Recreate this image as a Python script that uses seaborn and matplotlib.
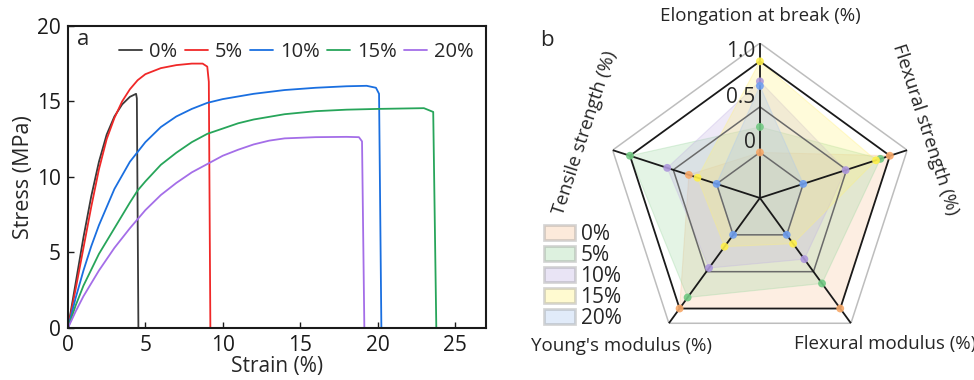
import numpy as np
import pandas as pd
import matplotlib
matplotlib.use('Agg')
import matplotlib.pyplot as plt
from matplotlib.patches import Patch
import seaborn as sns

# ---- panel a: stress-strain curves ----
contents = ['0%', '5%', '10%', '15%', '20%']

strain_0 = [0, 0.5, 1.0, 1.5, 2.0, 2.5, 3.0, 3.5, 4.0, 4.4, 4.45, 4.55]
stress_0 = [0, 3.0, 6.0, 8.7, 11.0, 12.8, 14.0, 14.8, 15.3, 15.5, 15.2, 0]

strain_5 = [0, 0.5, 1, 1.5, 2, 2.5, 3, 3.5, 4, 4.5, 5, 6, 7, 8, 8.7, 9.0, 9.1, 9.2]
stress_5 = [0, 2.6, 5.3, 8.0, 10.5, 12.5, 13.9, 15.0, 15.8, 16.4, 16.8, 17.2, 17.4, 17.5, 17.5, 17.3, 16.3, 0]

strain_10 = [0, 0.5, 1, 1.5, 2, 3, 4, 5, 6, 7, 8, 9, 10, 12, 14, 16, 18, 19.3, 19.9, 20.1, 20.25]
stress_10 = [0, 2.0, 3.8, 5.4, 6.8, 9.2, 11.0, 12.3, 13.3, 14.0, 14.5, 14.9, 15.15, 15.5, 15.75, 15.9, 16.0, 16.03, 15.9, 15.5, 0]

strain_15 = [0, 0.5, 1, 2, 3, 4, 4.5, 5, 6, 7, 8, 9, 10, 11, 12, 14, 16, 18, 20, 23, 23.6, 23.8]
stress_15 = [0, 1.5, 2.8, 4.9, 6.6, 8.3, 9.1, 9.7, 10.8, 11.6, 12.3, 12.85, 13.2, 13.55, 13.8, 14.15, 14.35, 14.45, 14.5, 14.55, 14.3, 0]

strain_20 = [0, 0.5, 1, 2, 3, 4, 5, 6, 7, 8, 9, 10, 11, 12, 13, 14, 16, 18, 18.8, 19.0, 19.15]
stress_20 = [0, 1.1, 2.1, 3.8, 5.3, 6.6, 7.8, 8.8, 9.6, 10.3, 10.85, 11.4, 11.8, 12.15, 12.4, 12.55, 12.63, 12.65, 12.63, 12.35, 0]

line_colors = ['#3a3a3a', '#f02828', '#1a6fe0', '#27a55a', '#a46ee8']

# ---- panel b: radar (normalised properties) ----
properties = ['Elongation at break (%)', 'Flexural strength (%)', 'Flexural modulus (%)',
              "Young's modulus (%)", 'Tensile strength (%)']
radar_0 = [0.0, 1.0, 1.0, 1.0, 0.32]
radar_5 = [0.28, 0.89, 0.66, 0.85, 1.0]
radar_10 = [0.78, 0.49, 0.33, 0.45, 0.57]
radar_15 = [1.0, 0.84, 0.12, 0.16, 0.22]
radar_20 = [0.73, 0.0, 0.0, 0.0, 0.0]
radar_ticks = [0, 0.5, 1.0]
radar_ticklabels = ['0', '0.5', '1.0']

fill_colors = ['#f9c49a', '#9fd8a4', '#c2b3e3', '#fff27a', '#a9c8f0']
dot_colors = ['#f7a868', '#72c983', '#ad98dc', '#fff04a', '#6f9ff0']

sns.set_theme(style='ticks')
plt.rcParams['font.family'] = ['Open Sans', 'DejaVu Sans']
plt.rcParams['axes.linewidth'] = 1.5

fig = plt.figure(figsize=(9.74, 3.8), dpi=100)

# ---------- a ----------
ax = fig.add_axes([0.0698, 0.137, 0.429, 0.795])
frames = []
for lab, sx, sy in zip(contents, [strain_0, strain_5, strain_10, strain_15, strain_20],
                       [stress_0, stress_5, stress_10, stress_15, stress_20]):
    frames.append(pd.DataFrame({'strain': sx, 'stress': sy, 'content': lab}))
df = pd.concat(frames, ignore_index=True)
sns.lineplot(data=df, x='strain', y='stress', hue='content', hue_order=contents,
             palette=line_colors, sort=False, estimator=None, lw=1.3, ax=ax)
ax.set_xlim(0, 27)
ax.set_ylim(0, 20)
ax.set_xticks([0, 5, 10, 15, 20, 25])
ax.set_yticks([0, 5, 10, 15, 20])
ax.tick_params(direction='in', length=4, width=1, labelsize=15, colors='k', pad=5)
for s in ax.spines.values():
    s.set_color('k')
ax.set_xlabel('Strain (%)', fontsize=15, labelpad=0)
ax.set_ylabel('Stress (MPa)', fontsize=15.5, labelpad=2)
ax.text(0.022, 0.99, 'a', transform=ax.transAxes, fontsize=16, va='top', ha='left')
ax.legend(loc='upper right', bbox_to_anchor=(1.0, 0.985), ncol=5, frameon=False,
          fontsize=14.5, handlelength=1.15, handletextpad=0.35, columnspacing=0.35,
          borderaxespad=0.2)

# ---------- b ----------
rax = fig.add_axes([0.6212, 0.071, 0.318, 0.816], projection='polar')
rax.set_theta_offset(np.pi / 2)
rax.set_theta_direction(-1)
rax.set_ylim(-0.5, 1.2)
rax.grid(False)
rax.spines['polar'].set_visible(False)
rax.set_xticks([])
rax.set_yticks([])
rax.patch.set_alpha(0)

n = len(properties)
ang = np.linspace(0, 2 * np.pi, n, endpoint=False)
ang_c = np.append(ang, ang[0])

rax.plot(ang_c, [1.2] * (n + 1), color='#bdbdbd', lw=1.1)
for lvl in radar_ticks:
    rax.plot(ang_c, [lvl] * (n + 1), color='k' if lvl == 1.0 else '#6a6a6a',
             lw=1.3 if lvl == 1.0 else 1.1, zorder=3)
for a in ang:
    rax.plot([a, a], [-0.5, 1.2], color='k', lw=1.3, zorder=3)

for vals, fc, dc in zip([radar_0, radar_5, radar_10, radar_15, radar_20], fill_colors, dot_colors):
    v = np.append(vals, vals[0])
    rax.fill(ang_c, v, color=fc, alpha=0.28, lw=0, zorder=2)
    rax.plot(ang_c, v, color=fc, alpha=0.35, lw=0.8, zorder=2)
    rax.scatter(ang, vals, s=32, color=dc, alpha=0.9, edgecolors='none', zorder=4)

for lvl, lab in zip(radar_ticks, radar_ticklabels):
    rax.annotate(lab, xy=(0, lvl), xytext=(-3, 7), textcoords='offset points',
                 ha='right', va='center', fontsize=15)

label_pos = [(0.0, 1.50, 0), (np.deg2rad(67.5), 1.46, -72), (np.deg2rad(139.5), 1.61, 0),
             (np.deg2rad(223), 1.72, 0), (np.deg2rad(290.4), 1.55, 72)]
for prop, (th, r, rot) in zip(properties, label_pos):
    rax.text(th, r, prop, ha='center', va='center', rotation=rot,
             rotation_mode='anchor', fontsize=13.5)

fig.text(547 / 974, 1 - 40 / 380, 'b', fontsize=16, ha='center', va='center')

handles = [Patch(facecolor=fc, alpha=0.35, edgecolor='#8c8c8c', lw=2) for fc in fill_colors]
fig.legend(handles, contents, loc='upper left', bbox_to_anchor=(542 / 974, 1 - 222 / 380),
           frameon=False, fontsize=15, handlelength=1.5, handleheight=0.75,
           handletextpad=0.25, labelspacing=0.0, borderaxespad=0, borderpad=0.1)

fig.savefig('out.png', dpi=100)
